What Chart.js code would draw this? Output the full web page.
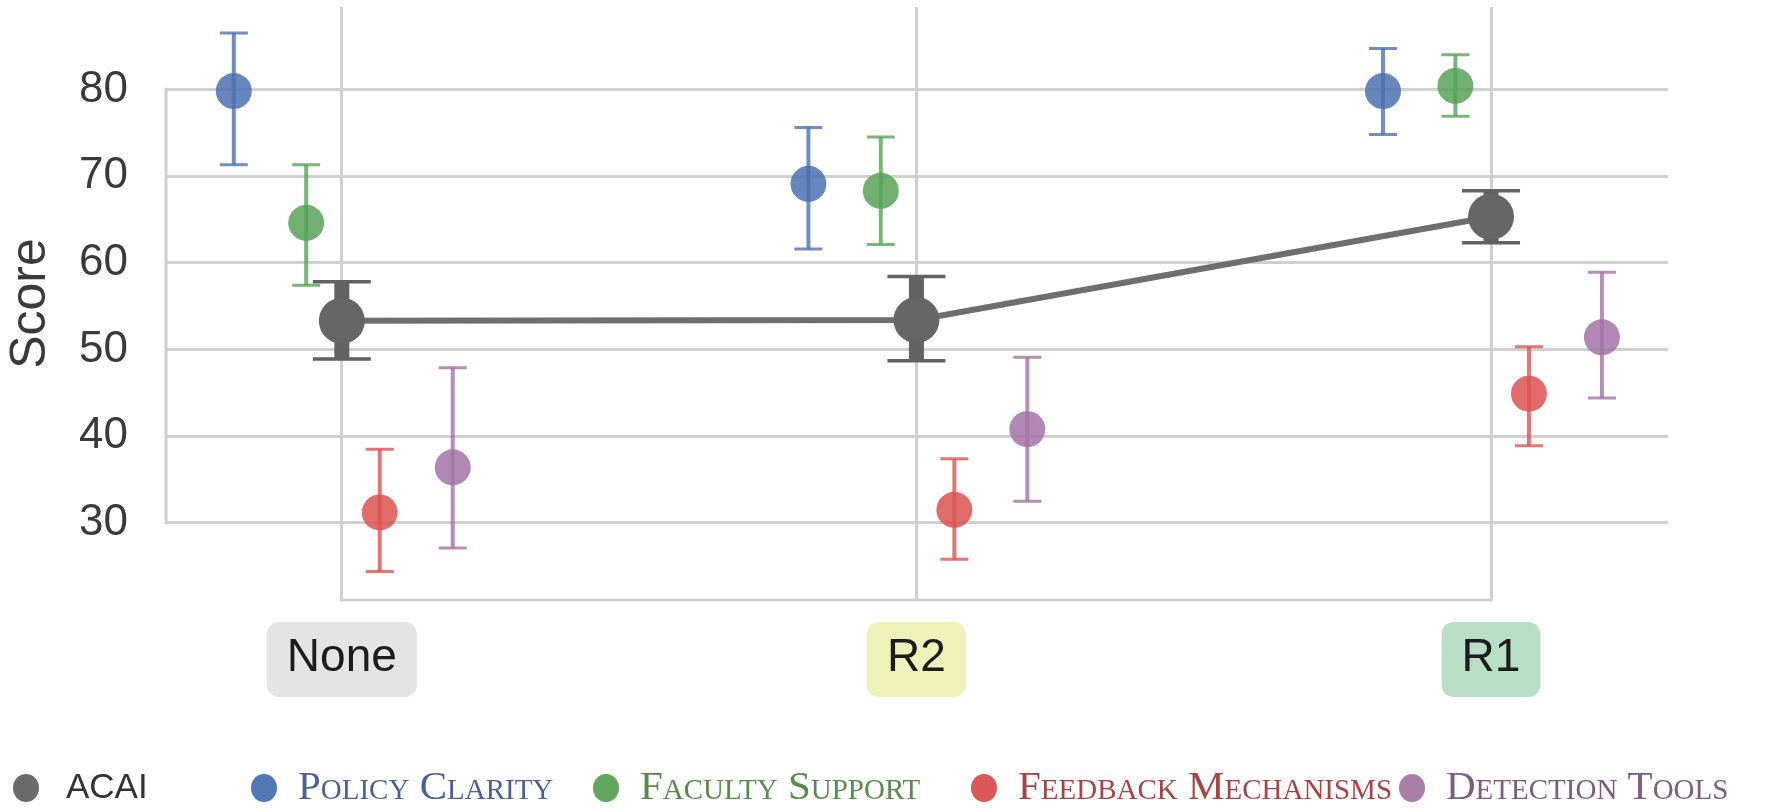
<!DOCTYPE html>
<html>
<head>
<meta charset="utf-8">
<script src="https://cdn.jsdelivr.net/npm/chart.js@4.4.1/dist/chart.umd.min.js"></script>
<style>
  html, body { margin: 0; padding: 0; background: #ffffff; }
  #wrap { width: 1790px; height: 810px; }
</style>
</head>
<body>
<div id="wrap"><canvas id="myChart"></canvas></div>
<script>
// categories and y ticks
const categories = ['None', 'R2', 'R1'];
const yTickValues = [30, 40, 50, 60, 70, 80];

// mean score and error interval per category
const acaiScore = [53.3, 53.4, 65.3];
const acaiLow = [48.9, 48.7, 62.3];
const acaiHigh = [57.8, 58.4, 68.3];

const policyScore = [79.8, 69.1, 79.8];
const policyLow = [71.3, 61.6, 74.8];
const policyHigh = [86.5, 75.6, 84.7];

const facultyScore = [64.6, 68.3, 80.4];
const facultyLow = [57.4, 62.1, 76.9];
const facultyHigh = [71.3, 74.5, 84.0];

const feedbackScore = [31.2, 31.5, 44.9];
const feedbackLow = [24.4, 25.8, 38.9];
const feedbackHigh = [38.5, 37.4, 50.3];

const detectionScore = [36.4, 40.8, 51.4];
const detectionLow = [27.1, 32.5, 44.4];
const detectionHigh = [47.9, 49.1, 58.9];

// look
const gridColor = '#d0d0d0';
const categoryBoxColors = ['#e4e4e4', '#eef2b9', '#b8dfc5'];

// horizontal dodge of each series around its category
function points(values, low, high, dodge) {
  return values.map((v, i) => ({ x: i + dodge, y: v, lo: low[i], hi: high[i] }));
}

const errorBarPlugin = {
  id: 'errorBars',
  beforeDatasetDraw(chart, args) {
    const ds = chart.data.datasets[args.index];
    const x = chart.scales.x;
    const y = chart.scales.y;
    const ctx = chart.ctx;
    ctx.save();
    ctx.strokeStyle = ds.errColor;
    ds.data.forEach(d => {
      const px = x.getPixelForValue(d.x);
      const top = y.getPixelForValue(d.hi);
      const bot = y.getPixelForValue(d.lo);
      ctx.lineWidth = ds.errWidth;
      ctx.beginPath();
      ctx.moveTo(px, top);
      ctx.lineTo(px, bot);
      ctx.stroke();
      ctx.lineWidth = ds.capLine;
      ctx.beginPath();
      ctx.moveTo(px - ds.capHalf, top);
      ctx.lineTo(px + ds.capHalf, top);
      ctx.moveTo(px - ds.capHalf, bot);
      ctx.lineTo(px + ds.capHalf, bot);
      ctx.stroke();
    });
    ctx.restore();
  }
};

// left spine only between first and last y tick, bottom spine only between first and last category
const framePlugin = {
  id: 'frame',
  beforeDatasetsDraw(chart) {
    const { ctx, chartArea, scales: { x, y } } = chart;
    ctx.save();
    ctx.strokeStyle = gridColor;
    ctx.lineWidth = 3;
    ctx.beginPath();
    ctx.moveTo(chartArea.left, y.getPixelForValue(yTickValues[yTickValues.length - 1]) - 1.5);
    ctx.lineTo(chartArea.left, y.getPixelForValue(yTickValues[0]) + 1.5);
    ctx.moveTo(x.getPixelForValue(0) - 1.5, chartArea.bottom);
    ctx.lineTo(x.getPixelForValue(categories.length - 1) + 1.5, chartArea.bottom);
    ctx.stroke();
    ctx.restore();
  }
};

const categoryLabelPlugin = {
  id: 'categoryLabels',
  afterDraw(chart) {
    const { ctx, scales: { x } } = chart;
    ctx.save();
    ctx.font = '46px "Liberation Sans", Arial, sans-serif';
    ctx.textAlign = 'center';
    ctx.textBaseline = 'middle';
    const cy = x.top + 59.5;
    categories.forEach((c, i) => {
      const cx = x.getPixelForValue(i);
      const w = ctx.measureText(c).width + 40;
      ctx.fillStyle = categoryBoxColors[i];
      ctx.beginPath();
      ctx.roundRect(cx - w / 2, cy - 37.5, w, 75, 12);
      ctx.fill();
      ctx.fillStyle = '#1c1c1c';
      ctx.fillText(c, cx, cy - 1);
    });
    ctx.restore();
  }
};

const legendItems = [
  { label: 'ACAI', dot: '#6b6b6b', color: '#333333', serif: false, x: 26 },
  { label: 'Policy Clarity', dot: '#5178b3', color: '#4d6191', serif: true, x: 264 },
  { label: 'Faculty Support', dot: '#62a65e', color: '#5a8a4b', serif: true, x: 606 },
  { label: 'Feedback Mechanisms', dot: '#d95858', color: '#a54444', serif: true, x: 984 },
  { label: 'Detection Tools', dot: '#a67ea8', color: '#7d5c7d', serif: true, x: 1412 }
];

const legendPlugin = {
  id: 'bottomLegend',
  afterDraw(chart) {
    const ctx = chart.ctx;
    const cy = chart.height - 22;
    ctx.save();
    ctx.textBaseline = 'middle';
    ctx.textAlign = 'left';
    legendItems.forEach(item => {
      ctx.fillStyle = item.dot;
      ctx.beginPath();
      ctx.ellipse(item.x, cy, 13, 14, 0, 0, Math.PI * 2);
      ctx.fill();
      ctx.fillStyle = item.color;
      if (item.serif) {
        ctx.font = '41px "Liberation Serif", "DejaVu Serif", serif';
        ctx.fontVariantCaps = 'small-caps';
        ctx.fillText(item.label, item.x + 34, cy);
      } else {
        ctx.font = '35px "Liberation Sans", Arial, sans-serif';
        ctx.fontVariantCaps = 'normal';
        ctx.fillText(item.label, item.x + 40, cy);
      }
    });
    ctx.restore();
  }
};

function colouredSeries(label, values, low, high, dodge, rgb) {
  return {
    label: label,
    data: points(values, low, high, dodge),
    showLine: false,
    pointRadius: 18,
    pointBorderWidth: 0,
    pointBackgroundColor: 'rgba(' + rgb + ',0.85)',
    errColor: 'rgba(' + rgb + ',0.8)',
    errWidth: 4,
    capLine: 3,
    capHalf: 14
  };
}

const datasets = [
  {
    label: 'ACAI',
    data: points(acaiScore, acaiLow, acaiHigh, 0),
    showLine: true,
    borderColor: '#6e6e6e',
    borderWidth: 6,
    pointRadius: 23,
    pointBorderWidth: 0,
    pointBackgroundColor: '#666666',
    errColor: '#626262',
    errWidth: 15,
    capLine: 3.5,
    capHalf: 29
  },
  colouredSeries('Policy Clarity', policyScore, policyLow, policyHigh, -0.188, '76,114,176'),
  colouredSeries('Faculty Support', facultyScore, facultyLow, facultyHigh, -0.062, '88,162,88'),
  colouredSeries('Feedback Mechanisms', feedbackScore, feedbackLow, feedbackHigh, 0.066, '220,82,82'),
  colouredSeries('Detection Tools', detectionScore, detectionLow, detectionHigh, 0.193, '163,115,166')
];

const ctx = document.getElementById('myChart').getContext('2d');
new Chart(ctx, {
  type: 'line',
  data: { datasets: datasets },
  plugins: [framePlugin, errorBarPlugin, categoryLabelPlugin, legendPlugin],
  options: {
    responsive: true,
    maintainAspectRatio: false,
    animation: false,
    events: [],
    layout: { autoPadding: false, padding: { top: 7, right: 122, bottom: 90, left: 0 } },
    plugins: {
      legend: { display: false },
      tooltip: { enabled: false }
    },
    scales: {
      x: {
        type: 'linear',
        min: -0.306,
        max: 2.308,
        afterBuildTicks: s => { s.ticks = categories.map((c, i) => ({ value: i })); },
        afterFit: s => { s.height = 120; s.paddingLeft = 0; s.paddingRight = 0; },
        ticks: { display: false },
        grid: { color: gridColor, lineWidth: 3, drawTicks: false },
        border: { display: false }
      },
      y: {
        min: 21.1,
        max: 89.5,
        afterBuildTicks: s => { s.ticks = yTickValues.map(v => ({ value: v })); },
        afterFit: s => { s.width = 166; s.paddingTop = 0; s.paddingBottom = 0; },
        ticks: {
          padding: 38,
          color: '#3a3a3a',
          font: { family: '"Liberation Sans", Arial, sans-serif', size: 44 }
        },
        grid: { color: gridColor, lineWidth: 3, drawTicks: false },
        border: { display: false },
        title: {
          display: true,
          text: 'Score',
          color: '#3a3a3a',
          padding: { top: 1, bottom: 0 },
          font: { family: '"Liberation Sans", Arial, sans-serif', size: 50 }
        }
      }
    }
  }
});
</script>
</body>
</html>
